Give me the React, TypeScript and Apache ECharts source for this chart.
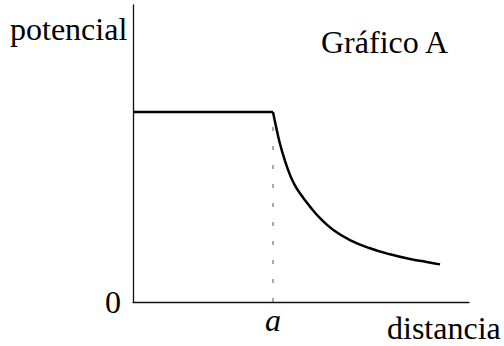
import React, { useEffect, useRef } from "react";
import * as echarts from "echarts";

// Data (normalized units: distance a = 1, potential at a = 1)
const flatX = [0, 1];
const flatY = [1, 1];
const curveX = [1, 1.024, 1.048, 1.079, 1.119, 1.15, 1.186, 1.264, 1.336, 1.431, 1.55, 1.693, 1.836, 1.979, 2.098, 2.193];
const curveY = [1, 0.915, 0.838, 0.758, 0.673, 0.623, 0.579, 0.502, 0.441, 0.379, 0.326, 0.283, 0.251, 0.226, 0.211, 0.198];
const aValue = 1;
const xTickValues = [aValue];
const xTickLabels = ["a"];
const yTickValues = [0];
const yTickLabels = ["0"];
const yAxisTitle = "potencial";
const xAxisTitle = "distancia";
const chartTitle = "Gráfico A";
const xMax = 2.4;
const yMax = 1.563;

const FONT = '"Liberation Serif", "Times New Roman", serif';

export default function App() {
  const ref = useRef<HTMLDivElement>(null);
  useEffect(() => {
    if (!ref.current) return;
    const chart = echarts.init(ref.current, null, { renderer: "svg" });
    const zip = (xs: number[], ys: number[]) => xs.map((x, i) => [x, ys[i]]);
    chart.setOption({
      animation: false,
      backgroundColor: "#fff",
      grid: { left: 133, right: 35, top: 5, bottom: 44, containLabel: false },
      xAxis: {
        type: "value",
        min: 0,
        max: xMax,
        splitLine: { show: false },
        axisTick: { show: false },
        axisLine: { lineStyle: { color: "#111", width: 1.3 } },
        axisLabel: {
          customValues: xTickValues,
          formatter: (v: number) => xTickLabels[xTickValues.indexOf(v)] ?? "",
          fontFamily: FONT,
          fontSize: 32,
          fontStyle: "italic",
          color: "#000",
          margin: 2,
        },
      },
      yAxis: {
        type: "value",
        min: 0,
        max: yMax,
        splitLine: { show: false },
        axisTick: { show: false },
        axisLine: { lineStyle: { color: "#111", width: 1.3 } },
        axisLabel: {
          customValues: yTickValues,
          formatter: (v: number) => yTickLabels[yTickValues.indexOf(v)] ?? "",
          fontFamily: FONT,
          fontSize: 32,
          color: "#000",
          margin: 12,
          verticalAlign: "middle",
          padding: [14, 0, 0, 0],
        },
      },
      graphic: [
        {
          type: "text",
          left: 10,
          top: 13,
          style: { text: yAxisTitle, font: `32px ${FONT}`, fill: "#000" },
        },
        {
          type: "text",
          left: 321,
          top: 26,
          style: { text: chartTitle, font: `32px ${FONT}`, fill: "#000" },
        },
        {
          type: "text",
          left: 387,
          top: 312,
          style: { text: xAxisTitle, font: `32px ${FONT}`, fill: "#000" },
        },
      ],
      series: [
        {
          type: "line",
          data: [
            [aValue, 0],
            [aValue, flatY[flatY.length - 1]],
          ],
          symbol: "none",
          lineStyle: { color: "#555", width: 1, type: [4, 15] },
          z: 1,
        },
        {
          type: "line",
          data: zip(flatX, flatY),
          symbol: "none",
          lineStyle: { color: "#000", width: 2.5 },
          z: 2,
        },
        {
          type: "line",
          data: zip(curveX, curveY),
          symbol: "none",
          smooth: 0.5,
          lineStyle: { color: "#000", width: 2.5 },
          z: 2,
        },
      ],
    });
    return () => chart.dispose();
  }, []);
  return <div ref={ref} style={{ width: 504, height: 346, position: "absolute", left: 0, top: 0 }} />;
}
